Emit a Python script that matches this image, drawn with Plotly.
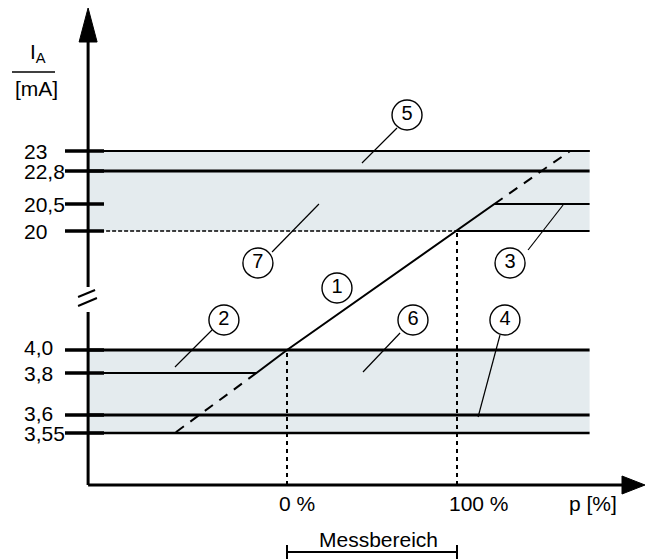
import numpy as np
import plotly.graph_objects as go

# Current levels on the broken I_A axis, their labels and their schematic height
levels = [3.55, 3.6, 3.8, 4.0, 20.0, 20.5, 22.8, 23.0]
level_labels = ["3,55", "3,6", "3,8", "4,0", "20", "20,5", "22,8", "23"]
level_height = [126, 144, 186, 209, 328, 355, 388, 408]

# Output characteristic (p in %, I_A in mA)
char_p = [-117, -18, 0, 100, 122, 178]
char_i = [3.8, 3.8, 4.0, 20.0, 20.5, 20.5]
low_ext_p = [-18, -66]
low_ext_i = [3.8, 3.55]
high_ext_p = [122, 166.5, 178]
high_ext_i = [20.5, 23.0, 23.0]

# Measuring range
range_p = [0, 100]
range_labels = ["0 %", "100 %"]

# Bands (mA)
upper_band = [20.0, 23.0]
lower_band = [3.55, 4.0]

# Callout numbers
callout_ids = ["1", "2", "3", "4", "5", "6", "7"]

# ---- layout constants ----
AXIS_P = -117          # position of the vertical axis in %
BAND_END = 178         # right end of the bands in %
X_AXIS_Y = 74          # height of the p axis
PX = 1.7               # screen pixels per %
FONT = "Liberation Sans, Arial, sans-serif"
FS = 21
BAND_COLOR = "#e4ebee"
INK = "#000000"


def ypos(current):
    return np.interp(current, levels, level_height)


fig = go.Figure()


def seg(xs, ys, width=2, dash="solid", color=INK):
    fig.add_trace(go.Scatter(x=xs, y=ys, mode="lines",
                             line=dict(color=color, width=width, dash=dash),
                             hoverinfo="skip"))


# bands
for band in (upper_band, lower_band):
    fig.add_shape(type="rect", xref="x", yref="y", x0=AXIS_P, x1=BAND_END,
                  y0=ypos(band[0]), y1=ypos(band[1]),
                  fillcolor=BAND_COLOR, line_width=0, layer="below")

# level lines across the bands
line_styles = {
    23.0: dict(width=2),
    22.8: dict(width=3),
    4.0: dict(width=3),
    3.6: dict(width=3),
    3.55: dict(width=2.5),
}
for lv, st in line_styles.items():
    seg([AXIS_P, BAND_END], [ypos(lv)] * 2, width=st["width"])

# 20 mA: fine dashed up to 100 %, solid beyond
seg([AXIS_P, range_p[1]], [ypos(20.0)] * 2, width=1.6, dash="4px,2px")
seg([range_p[1], BAND_END], [ypos(20.0)] * 2, width=2)

# tick marks on the I_A axis
tick_x0 = (65 - 287) / PX
tick_x1 = (104 - 287) / PX
for lv in levels:
    seg([tick_x0, tick_x1], [ypos(lv)] * 2, width=3.5)

# dashed verticals at 0 % and 100 %
seg([range_p[0]] * 2, [X_AXIS_Y, ypos(char_i[2])], width=2, dash="4px,4px")
seg([range_p[1]] * 2, [X_AXIS_Y, ypos(char_i[3])], width=2, dash="4px,4px")

# characteristic
seg(char_p, list(ypos(char_i)), width=2)
seg(low_ext_p, list(ypos(low_ext_i)), width=2, dash="10px,8px")
seg(high_ext_p, list(ypos(high_ext_i)), width=2, dash="10px,8px")

# vertical axis with break
break_top, break_bottom = 272, 247
seg([AXIS_P, AXIS_P], [X_AXIS_Y, break_bottom], width=3)
seg([AXIS_P, AXIS_P], [break_top, 520], width=3)
seg([-122.9, -112.9], [262, 269], width=2)
seg([-122.9, -111.8], [253, 261], width=2)

# horizontal axis
seg([AXIS_P, (624 - 287) / PX], [X_AXIS_Y, X_AXIS_Y], width=3)

# arrow heads
fig.add_trace(go.Scatter(x=[AXIS_P - 9 / PX, AXIS_P, AXIS_P + 9 / PX, AXIS_P - 9 / PX],
                         y=[517, 551, 517, 517], fill="toself", fillcolor=INK,
                         mode="lines", line=dict(color=INK, width=1), hoverinfo="skip"))
ax_end = (622 - 287) / PX
fig.add_trace(go.Scatter(x=[ax_end, (645 - 287) / PX, ax_end, ax_end],
                         y=[X_AXIS_Y + 9, X_AXIS_Y, X_AXIS_Y - 9, X_AXIS_Y + 9],
                         fill="toself", fillcolor=INK,
                         mode="lines", line=dict(color=INK, width=1), hoverinfo="skip"))

# measuring range bracket
seg(range_p, [7, 7], width=2)
seg([range_p[0]] * 2, [0, 14], width=2)
seg([range_p[1]] * 2, [0, 14], width=2)

# callout leaders
leaders = [
    ([-44.1, -65.9], [229, 192]),
    ([141.8, 162.4], [309, 354]),
    ([125.3, 112.4], [224, 142]),
    ([64.7, 44.1], [431, 396]),
    ([66.5, 44.7], [226, 187]),
    ([-8.8, 18.8], [307, 355]),
]
for xs, ys in leaders:
    seg(xs, ys, width=1.2)

# callout circles
callout_x = [29.4, -37.1, 131.2, 128.2, 70.6, 74.1, -17.1]
callout_y = [271, 239, 296, 239, 444, 239, 296]
fig.add_trace(go.Scatter(
    x=callout_x, y=callout_y, mode="markers+text", text=callout_ids,
    textposition="middle center",
    textfont=dict(family=FONT, size=20, color=INK),
    marker=dict(size=30, color="white", line=dict(color=INK, width=1.4)),
    hoverinfo="skip"))

annotations = []
label_x = (22 - 287) / PX
label_nudge = {4.0: 3, 3.6: 2}
for lv, lab in zip(levels, level_labels):
    annotations.append(dict(x=label_x, y=ypos(lv) + label_nudge.get(lv, 0), text=lab,
                            xanchor="left", yanchor="middle", showarrow=False,
                            font=dict(family=FONT, size=FS, color=INK)))

for p, lab in zip(range_p, range_labels):
    annotations.append(dict(x=p - 6, y=56, text=lab, xanchor="left", yanchor="middle",
                            showarrow=False, font=dict(family=FONT, size=FS, color=INK)))
annotations.append(dict(x=(567 - 287) / PX, y=56, text="p [%]", xanchor="left",
                        yanchor="middle", showarrow=False,
                        font=dict(family=FONT, size=FS, color=INK)))
annotations.append(dict(x=(378 - 287) / PX, y=20, text="Messbereich", xanchor="center",
                        yanchor="middle", showarrow=False,
                        font=dict(family=FONT, size=FS, color=INK)))

# I_A / [mA] axis title
annotations.append(dict(x=(38 - 287) / PX, y=506, text="I<sub>A</sub>", xanchor="center",
                        yanchor="middle", showarrow=False,
                        font=dict(family=FONT, size=FS, color=INK)))
annotations.append(dict(x=(36 - 287) / PX, y=471, text="[mA]", xanchor="center",
                        yanchor="middle", showarrow=False,
                        font=dict(family=FONT, size=FS, color=INK)))
seg([(12 - 287) / PX, (55 - 287) / PX], [487, 487], width=1.5)

fig.update_layout(
    width=645, height=559,
    margin=dict(l=0, r=0, t=0, b=0),
    paper_bgcolor="white", plot_bgcolor="white",
    showlegend=False,
    xaxis=dict(range=[-287 / PX, 358 / PX], visible=False, fixedrange=True),
    yaxis=dict(range=[0, 559], visible=False, fixedrange=True),
    annotations=annotations,
)

fig.write_html("out.html")
